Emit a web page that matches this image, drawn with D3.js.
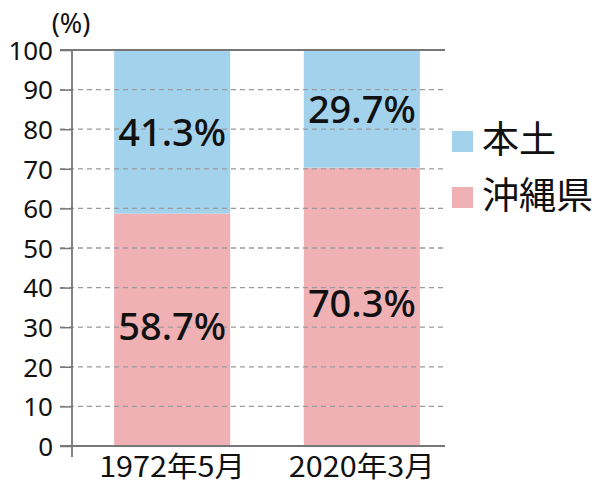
<!DOCTYPE html>
<html><head><meta charset="utf-8">
<script src="https://cdn.jsdelivr.net/npm/d3@7"></script>
<style>body{margin:0;background:#fff}</style>
</head><body>
<svg id="c" width="601" height="494"></svg>
<script>
const categories = ["1972年5月", "2020年3月"];
const okinawa = [58.7, 70.3];
const hondo = [41.3, 29.7];
const seriesNames = ["本土", "沖縄県"];
const yTicks = [0,10,20,30,40,50,60,70,80,90,100];

const colors = {"本土":"#a3d3ec","沖縄県":"#f0b1b5"};
const svg = d3.select("#c");
const font = "'Noto Sans','Noto Sans CJK JP',sans-serif";
const cjk = "'Noto Sans CJK JP','Noto Sans',sans-serif";
const y = d3.scaleLinear().domain([0,100]).range([446,50]);
const x = d3.scaleBand().domain(categories).range([72,462]).paddingInner(0.388).paddingOuter(0.222);
const gridRight = 445;

const data = categories.map((c,i)=>({c, ok:okinawa[i], ho:hondo[i]}));
// bars
svg.append("g").selectAll("rect").data(data).join("rect")
  .attr("x",d=>x(d.c)).attr("width",x.bandwidth())
  .attr("y",d=>y(d.ok)).attr("height",d=>y(0)-y(d.ok)).attr("fill",colors["沖縄県"]);
svg.append("g").selectAll("rect").data(data).join("rect")
  .attr("x",d=>x(d.c)).attr("width",x.bandwidth())
  .attr("y",d=>y(d.ok+d.ho)).attr("height",d=>y(d.ok)-y(d.ok+d.ho)).attr("fill",colors["本土"]);

// dashed grid
svg.append("g").selectAll("line").data(yTicks.filter(t=>t>0&&t<100)).join("line")
  .attr("x1",60).attr("x2",gridRight).attr("y1",d=>y(d)).attr("y2",d=>y(d))
  .attr("stroke","#9a9a9a").attr("stroke-width",1.3).attr("stroke-dasharray","5,4");

// top and bottom solid lines
[0,100].forEach(v=>{
  svg.append("line").attr("x1",60).attr("x2",gridRight).attr("y1",y(v)).attr("y2",y(v))
    .attr("stroke","#777").attr("stroke-width",1.8);
});
// y axis
const yAxis = d3.axisLeft(y).tickValues(yTicks).tickSize(12).tickPadding(7);
const ga = svg.append("g").attr("transform","translate(72,0)").call(yAxis);
ga.select(".domain").remove();
ga.selectAll(".tick line").attr("stroke","#777").attr("stroke-width",1.5);
ga.selectAll(".tick text").attr("font-family",font).attr("font-size",26).attr("fill","#111").attr("dy","0.36em");
svg.append("line").attr("x1",72).attr("x2",72).attr("y1",y(100)).attr("y2",457)
  .attr("stroke","#777").attr("stroke-width",1.8);

svg.append("text").attr("x",71).attr("y",33).attr("text-anchor","middle")
  .attr("font-family",font).attr("font-size",27).attr("fill","#111").text("(%)");

// value labels
const lab = svg.append("g").attr("font-family",font).attr("font-size",38).attr("font-weight",500)
  .attr("text-anchor","middle").attr("fill","#111");
data.forEach(d=>{
  lab.append("text").attr("x",x(d.c)+x.bandwidth()/2).attr("y",(y(d.ok)+y(100))/2+14).text(d.ho.toFixed(1)+"%");
  lab.append("text").attr("x",x(d.c)+x.bandwidth()/2).attr("y",(y(d.ok)+y(0))/2+10).text(d.ok.toFixed(1)+"%");
});

// x labels
svg.append("g").selectAll("text").data(categories).join("text")
  .attr("x",d=>x(d)+x.bandwidth()/2).attr("y",477).attr("text-anchor","middle")
  .attr("font-family",cjk).attr("font-size",28).attr("fill","#111")
  .attr("textLength",146).attr("lengthAdjust","spacingAndGlyphs").text(d=>d);

// legend
const lg = svg.append("g");
seriesNames.forEach((n,i)=>{
  lg.append("rect").attr("x",452).attr("y",131+i*56).attr("width",21).attr("height",21).attr("fill",colors[n]);
  lg.append("text").attr("x",482).attr("y",153+i*56).attr("font-family",cjk).attr("font-size",37)
    .attr("fill","#111").text(n);
});
</script>
</body></html>
